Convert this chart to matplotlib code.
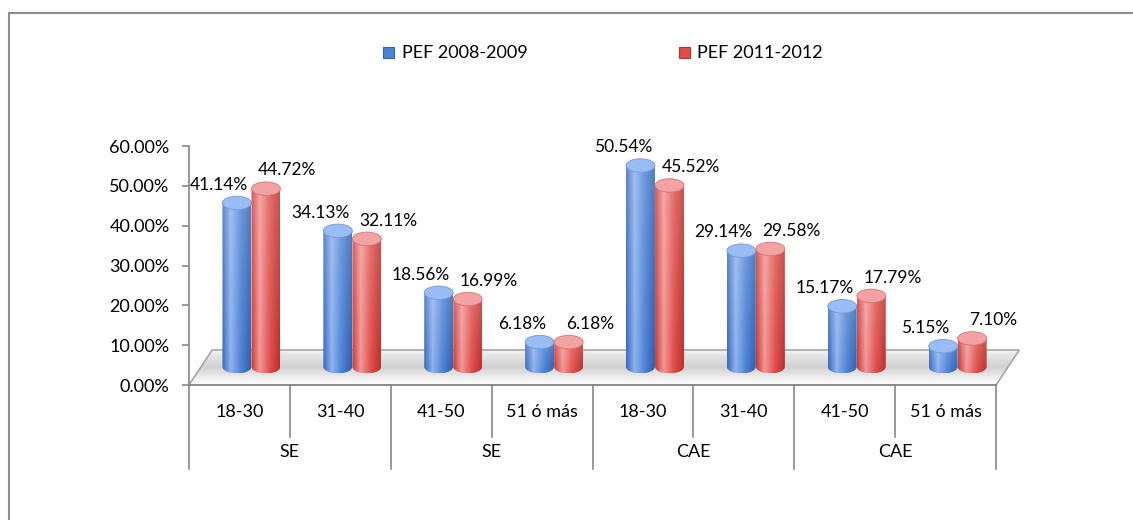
import numpy as np
import matplotlib
matplotlib.use("Agg")
import matplotlib.pyplot as plt
from matplotlib.patches import Polygon, Ellipse, Rectangle
from matplotlib.colors import to_rgb

# Datos
subcategorias = ["18-30", "31-40", "41-50", "51 ó más", "18-30", "31-40", "41-50", "51 ó más"]
grupos = ["SE", "SE", "CAE", "CAE"]
series = ["PEF 2008-2009", "PEF 2011-2012"]
pef_2008_2009 = [41.14, 34.13, 18.56, 6.18, 50.54, 29.14, 15.17, 5.15]
pef_2011_2012 = [44.72, 32.11, 16.99, 6.18, 45.52, 29.58, 17.79, 7.10]
marcas_y = [0, 10, 20, 30, 40, 50, 60]

plt.rcParams['font.family'] = ['Lato', 'DejaVu Sans']

GRIS = "#868686"
ANCHO = 0.287        # ancho de cada cilindro (unidades de categoria)
BASE = 4.6           # altura del centro de la base sobre el suelo
ALTO_TAPA = 3.4      # alto de las elipses
FONDO_DX = 0.23      # profundidad del suelo en x
FONDO_DY = 8.8       # profundidad del suelo en y
TXT = 13             # tamaño de letra de ejes y leyenda

estilos = {
    "azul": {"paradas": [0, 0.3, 0.65, 1],
             "colores": ["#3868b8", "#8cb2ef", "#4d82d4", "#3060ae"],
             "tapa": "#98bcf3", "borde": "#6f98dc", "dx": -0.175, "off": -0.025},
    "rojo": {"paradas": [0, 0.3, 0.65, 1],
             "colores": ["#c63733", "#f29696", "#e04e4a", "#b8302c"],
             "tapa": "#f2a2a2", "borde": "#d97070", "dx": 0.21, "off": 0.263},
}


def degradado(paradas, colores, n=60, m=40, aclarar=0.18):
    """Imagen (m, n, 3) con degradado horizontal y algo mas clara arriba"""
    xs = np.linspace(0, 1, n)
    rgb = np.array([to_rgb(c) for c in colores])
    fila = np.column_stack([np.interp(xs, paradas, rgb[:, k]) for k in range(3)])
    img = np.repeat(fila[None, :, :], m, axis=0)
    f = np.linspace(0, aclarar, m)[:, None, None]
    return img * (1 - f) + f


def cilindro(ax, xc, valor, est, z):
    x0, x1 = xc - ANCHO / 2, xc + ANCHO / 2
    arriba = BASE + valor
    t = np.linspace(np.pi, 2 * np.pi, 40)
    fondo = np.column_stack([xc + ANCHO / 2 * np.cos(t), BASE + ALTO_TAPA / 2 * np.sin(t)])
    verts = np.vstack([[x0, arriba], fondo, [x1, arriba]])
    cuerpo = Polygon(verts, closed=True, fill=False, lw=0, zorder=z)
    ax.add_patch(cuerpo)
    im = ax.imshow(degradado(est["paradas"], est["colores"]),
                   extent=[x0, x1, BASE - ALTO_TAPA / 2, arriba], origin='lower',
                   aspect='auto', zorder=z, interpolation='bilinear')
    im.set_clip_path(cuerpo)
    tapa = Ellipse((xc, arriba), ANCHO, ALTO_TAPA, facecolor=est["tapa"],
                   edgecolor=est["borde"], lw=0.6, zorder=z + 0.1)
    ax.add_patch(tapa)
    ax.text(xc + est["dx"], arriba + 4.6, f"{valor:.2f}%", ha='center', va='center',
            fontsize=12.5, zorder=20)


fig = plt.figure(figsize=(11.33, 5.2), dpi=100)
# borde del area del grafico
fig.patches.append(Rectangle((9 / 1133, -0.1), 1.2, 1 - 13 / 520 + 0.1, transform=fig.transFigure,
                             fill=False, edgecolor="#8c8c8c", lw=1.5))

ax = fig.add_axes([0.1668, 0.0912, 0.7569, 0.643])
n = len(subcategorias)

# suelo en perspectiva
suelo = Polygon([(0, 0), (n, 0), (n + FONDO_DX, FONDO_DY), (FONDO_DX, FONDO_DY)], closed=True,
                facecolor='none', edgecolor="#a6a6a6", lw=1.2, zorder=2)
ax.add_patch(suelo)
ys = np.linspace(0, 1, 50)
gris = np.interp(ys, [0, 0.15, 0.5, 0.85, 1], [0.99, 0.95, 0.82, 0.9, 0.97])
img_suelo = np.repeat(np.repeat(gris[:, None, None], 2, axis=1), 3, axis=2)
ims = ax.imshow(img_suelo, extent=[0, n + FONDO_DX, 0, FONDO_DY], origin='lower', aspect='auto',
                zorder=1, interpolation='bilinear')
ims.set_clip_path(suelo)

# cilindros
for i in range(n):
    cilindro(ax, i + 0.5 + estilos["azul"]["off"], pef_2008_2009[i], estilos["azul"], 5 + i)
    cilindro(ax, i + 0.5 + estilos["rojo"]["off"], pef_2011_2012[i], estilos["rojo"], 5.5 + i)

# eje de categorias con dos niveles
ax.plot([0, n], [0, 0], color=GRIS, lw=1.2, clip_on=False, zorder=3)
for i in range(n + 1):
    largo = -21 if i % 2 == 0 else -13
    ax.plot([i, i], [0, largo], color=GRIS, lw=1.2, clip_on=False, zorder=3)
for i, s in enumerate(subcategorias):
    ax.text(i + 0.5, -6.8, s, ha='center', va='center', fontsize=TXT)
for g, s in enumerate(grupos):
    ax.text(2 * g + 1, -16.8, s, ha='center', va='center', fontsize=TXT)

# eje y
for lado in ['top', 'right', 'bottom']:
    ax.spines[lado].set_visible(False)
ax.spines['left'].set_bounds(0, 60)
ax.spines['left'].set_color(GRIS)
ax.spines['left'].set_linewidth(1.2)
ax.set_yticks(marcas_y)
ax.set_yticklabels([f"{v:.2f}%" for v in marcas_y])
ax.tick_params(axis='y', length=5, width=1.2, color=GRIS, labelsize=TXT, pad=9)
ax.set_xticks([])
ax.set_xlim(0, 8.5)
ax.set_ylim(-22, 62)
ax.patch.set_visible(False)

# leyenda
for x_m, x_t, nombre, est in [(383, 402, series[0], estilos["azul"]), (679, 697, series[1], estilos["rojo"])]:
    fig.patches.append(Rectangle((x_m / 1133, 1 - 58 / 520), 11 / 1133, 11 / 520, transform=fig.transFigure,
                                 facecolor=est["colores"][2], edgecolor=est["colores"][3], lw=0.8))
    fig.text(x_t / 1133, 1 - 52.5 / 520, nombre, ha='left', va='center', fontsize=TXT)

fig.savefig("out.png", dpi=100)
